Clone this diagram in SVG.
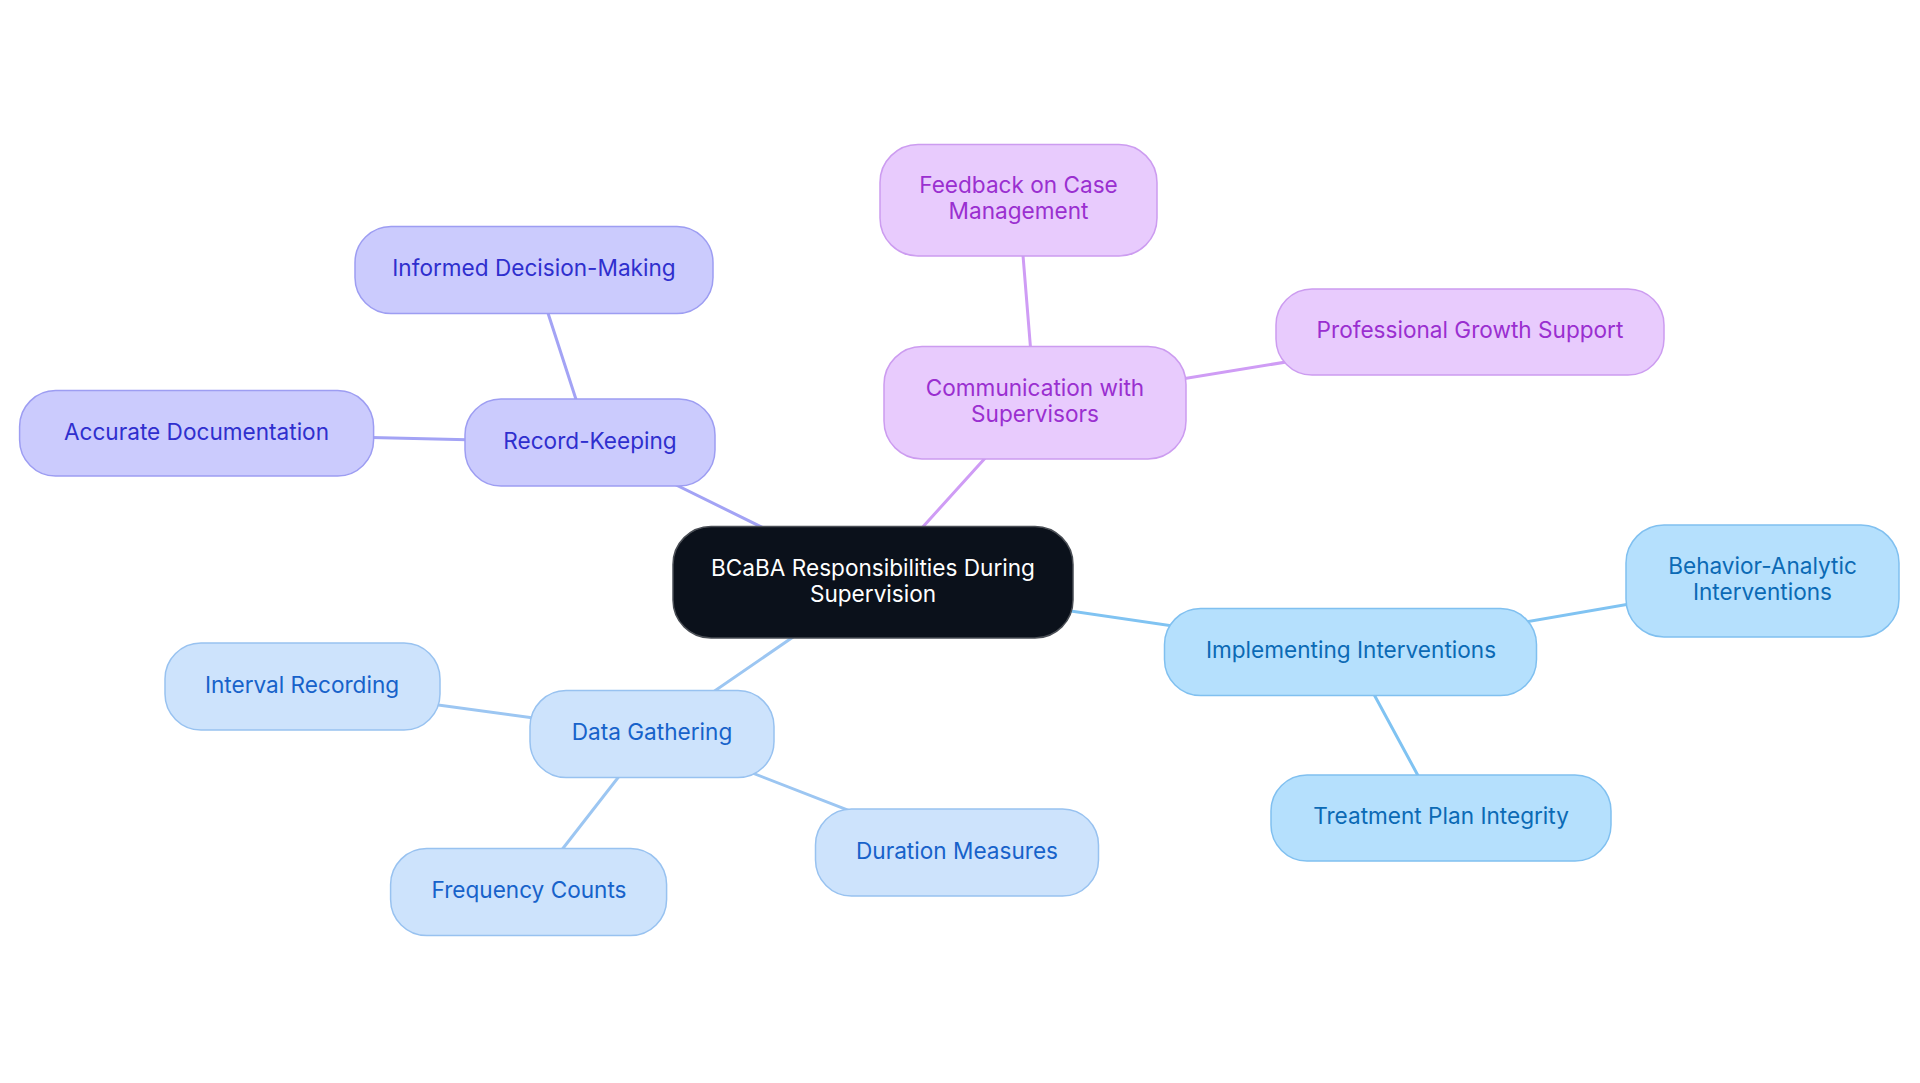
<svg xmlns="http://www.w3.org/2000/svg" width="1920" height="1083" viewBox="0 0 1920 1083">
<style>
text{font-family:Inter,"Noto Sans","Liberation Sans",sans-serif;font-size:22.6px;text-anchor:middle;dominant-baseline:central}
.e{stroke-width:3;fill:none;stroke-linecap:round}
.ep{stroke:#a3a3f5}.ec{stroke:#cf9cf5}.ei{stroke:#80c3f2}.ed{stroke:#9cc6f2}
.n{stroke-width:1.5}
.rk{fill:#cbcbfd;stroke:#9d9df2}.rkt{fill:#2f2fce}
.cm{fill:#e8cbfd;stroke:#cc9cf0}.cmt{fill:#9a2fd0}
.im{fill:#b5e0fd;stroke:#80c0f0}.imt{fill:#0b6ab5}
.dg{fill:#cde3fc;stroke:#98c2f0}.dgt{fill:#1762ca}
.root{fill:#0b111b;stroke:#4a4e55}.roott{fill:#ffffff}
</style>
<rect width="1920" height="1083" fill="#ffffff"/>
<g id="connectors">
<line class="e ep" x1="873" y1="582" x2="590" y2="442.5"/>
<line class="e ep" x1="590" y1="442.5" x2="534" y2="270"/>
<line class="e ep" x1="590" y1="442.5" x2="196.5" y2="433.3"/>
<line class="e ec" x1="873" y1="582" x2="1035" y2="403"/>
<line class="e ec" x1="1035" y1="403" x2="1018.5" y2="200"/>
<line class="e ec" x1="1035" y1="403" x2="1470" y2="332"/>
<line class="e ei" x1="873" y1="582" x2="1351" y2="652"/>
<line class="e ei" x1="1351" y1="652" x2="1762.5" y2="581"/>
<line class="e ei" x1="1351" y1="652" x2="1441" y2="818"/>
<line class="e ed" x1="873" y1="582" x2="652" y2="734"/>
<line class="e ed" x1="652" y1="734" x2="302" y2="686.5"/>
<line class="e ed" x1="652" y1="734" x2="529" y2="892"/>
<line class="e ed" x1="652" y1="734" x2="957" y2="852.5"/>
</g>
<g id="root">
<rect class="n root" x="673" y="526.5" width="400" height="111.5" rx="38"/>
<text class="roott" x="873" y="567">BCaBA Responsibilities During</text>
<text class="roott" x="873" y="593">Supervision</text>
</g>
<g id="record-keeping">
<rect class="n rk" x="465" y="399" width="250" height="87" rx="36"/>
<text class="rkt" x="590" y="440">Record-Keeping</text>
</g>
<g id="informed-decision-making">
<rect class="n rk" x="355" y="226.5" width="358" height="87" rx="36"/>
<text class="rkt" x="534" y="267.5">Informed Decision-Making</text>
</g>
<g id="accurate-documentation">
<rect class="n rk" x="19.6" y="390.6" width="354" height="85.5" rx="36"/>
<text class="rkt" x="196.5" y="431">Accurate Documentation</text>
</g>
<g id="communication">
<rect class="n cm" x="884" y="346.5" width="302" height="112.5" rx="38"/>
<text class="cmt" x="1035" y="387.5">Communication with</text>
<text class="cmt" x="1035" y="413.5">Supervisors</text>
</g>
<g id="feedback">
<rect class="n cm" x="880" y="144.5" width="277" height="111.5" rx="38"/>
<text class="cmt" x="1018.5" y="184.5">Feedback on Case</text>
<text class="cmt" x="1018.5" y="210.5">Management</text>
</g>
<g id="professional-growth">
<rect class="n cm" x="1276" y="289" width="388" height="86" rx="36"/>
<text class="cmt" x="1470" y="329.5">Professional Growth Support</text>
</g>
<g id="implementing">
<rect class="n im" x="1164.5" y="608.6" width="372" height="87" rx="36"/>
<text class="imt" x="1351" y="649.5">Implementing Interventions</text>
</g>
<g id="behavior-analytic">
<rect class="n im" x="1626" y="525" width="273" height="112" rx="38"/>
<text class="imt" x="1762.5" y="565.5">Behavior-Analytic</text>
<text class="imt" x="1762.5" y="591.5">Interventions</text>
</g>
<g id="treatment-plan">
<rect class="n im" x="1271" y="775" width="340" height="86" rx="36"/>
<text class="imt" x="1441" y="815.5">Treatment Plan Integrity</text>
</g>
<g id="data-gathering">
<rect class="n dg" x="530" y="690.6" width="244" height="87" rx="36"/>
<text class="dgt" x="652" y="731.5">Data Gathering</text>
</g>
<g id="interval-recording">
<rect class="n dg" x="165" y="643" width="275" height="87" rx="36"/>
<text class="dgt" x="302" y="684">Interval Recording</text>
</g>
<g id="frequency-counts">
<rect class="n dg" x="390.6" y="848.6" width="276" height="87" rx="36"/>
<text class="dgt" x="529" y="889.5">Frequency Counts</text>
</g>
<g id="duration-measures">
<rect class="n dg" x="815.5" y="809" width="283" height="87" rx="36"/>
<text class="dgt" x="957" y="850">Duration Measures</text>
</g>
</svg>
